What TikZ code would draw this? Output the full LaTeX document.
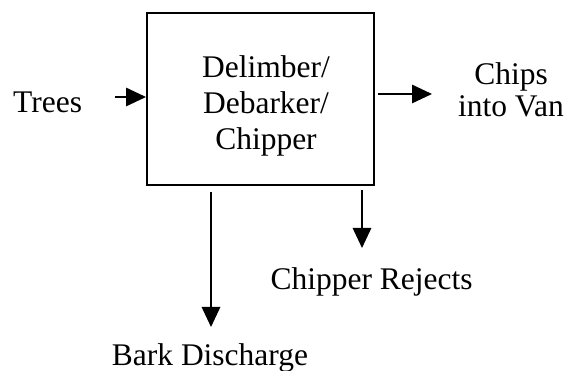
\documentclass[tikz,border=0pt]{standalone}
\usepackage{fontspec}
\setmainfont{Liberation Serif}
\usetikzlibrary{arrows.meta}

\begin{document}
\begin{tikzpicture}[scale=1,
		unit/.style={draw, line width=1.4pt, minimum width=5.675cm, minimum height=4.3cm, inner sep=0pt},
		txt/.style={align=center, inner sep=0pt, font=\fontsize{22.4}{25.6}\selectfont},
		flow/.style={line width=1.3pt, -{Triangle[length=0.5cm,width=0.46cm]}}]
			\useasboundingbox (0,0) rectangle (14.45,-9.275);

			%process
			\node[unit] (box) at (6.5125,-2.475) {};

			\node[txt] (boxtext) at (6.65,-2.66) {Delimber/\\Debarker/\\Chipper};

			%input
			\node[txt] (trees) at (1.19,-2.56) {Trees};

			\coordinate (treesin) at (2.875,-2.425);

			\draw[flow] (treesin) -- (treesin -| box.west);

			%outputs
			\coordinate (chipsout) at (9.45,-2.35);

			\coordinate (chipsend) at (10.8,-2.35);

			\draw[flow] (chipsout) -- (chipsend);

			\node[txt, font=\fontsize{22.4}{22.8}\selectfont] (chips) at (12.775,-2.25) {Chips\\into Van};

			\coordinate (barkout) at (5.275,-4.8);

			\coordinate (barkend) at (5.275,-8.175);

			\draw[flow] (barkout) -- (barkend);

			\node[txt] (bark) at (5.25,-8.94) {Bark Discharge};

			\coordinate (rejout) at (9.05,-4.75);

			\coordinate (rejend) at (9.05,-6.2);

			\draw[flow] (rejout) -- (rejend);

			\node[txt] (rejects) at (9.29,-7.06) {Chipper Rejects};
\end{tikzpicture}
\end{document}
